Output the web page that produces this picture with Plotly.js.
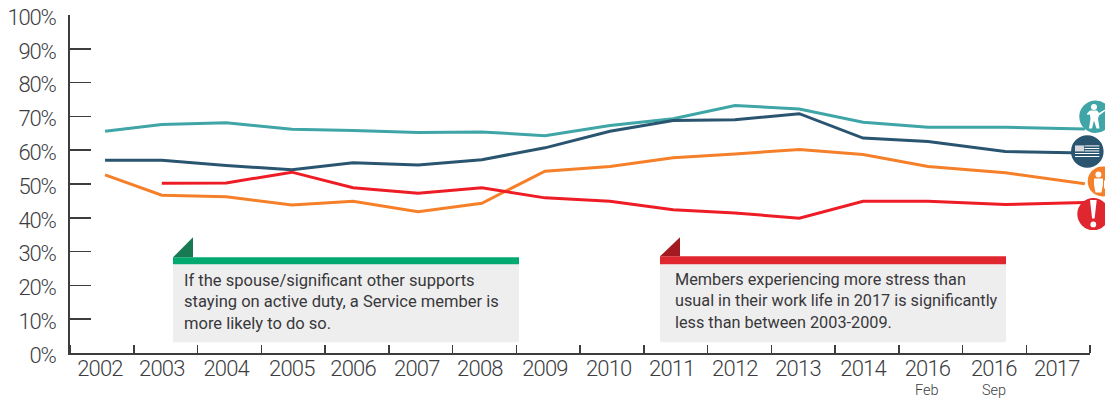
<!DOCTYPE html>
<html>
<head>
<meta charset="utf-8">
<script src="https://cdn.plot.ly/plotly-3.0.1.min.js"></script>
<style>
html,body{margin:0;padding:0;background:#fff}
#chart{width:1105px;height:399px}
/* Tighter numerals on both axes */
#chart .xtick text{letter-spacing:-0.8px}
#chart .ytick text{letter-spacing:-1.2px}
</style>
</head>
<body>
<div id="chart"></div>
<script>
// Survey periods, and where each one sits along the horizontal axis (1 unit = one tick interval)
const periods = ['2002','2003','2004','2005','2006','2007','2008','2009','2010','2011','2012','2013','2014','2016','2016','2017'];
const periodSubLabels = ['','','','','','','','','','','','','','Feb','Sep',''];
const pointSlots = [0.55,1.44,2.45,3.48,4.44,5.46,6.46,7.45,8.47,9.46,10.43,11.44,12.44,13.46,14.67,15.92];
const labelSlots = [0.47,1.44,2.45,3.48,4.44,5.44,6.43,7.45,8.45,9.44,10.43,11.42,12.44,13.45,14.49,15.48];

// Percent of respondents per period
const spouseSupport = [65.6,67.6,68.1,66.2,65.8,65.2,65.4,64.3,67.3,69.3,73.2,72.2,68.3,66.8,66.8,66.3];
const careerIntent  = [57.0,57.0,55.5,54.2,56.3,55.6,57.2,60.7,65.6,68.8,69.0,70.8,63.6,62.6,59.6,59.2];
const retentionView = [52.7,46.7,46.2,43.8,44.9,41.8,44.3,53.8,55.2,57.8,58.9,60.2,58.7,55.2,53.3,50.1];
const workStress    = [null,50.2,50.3,53.5,48.9,47.3,48.9,45.9,44.9,42.4,41.4,39.9,44.9,44.9,43.9,44.5];

const W = 1105, H = 399, L = 70, R = 1090, T = 14.5, B = 352.7;
const fx = px => (px - L) / (R - L);
const fy = py => (B - py) / (B - T);
const INK = '#3d3d3f';

const line = (y, color) => ({
  x: pointSlots, y, type: 'scatter', mode: 'lines', hoverinfo: 'skip',
  line: { color, width: 3, shape: 'linear' }, connectgaps: false
});

// Closed path, given in page pixels, as a paper-referenced shape
const pathOf = pts => pts.map((p, i) => (i ? 'L' : 'M') + fx(p[0]).toFixed(5) + ',' + fy(p[1]).toFixed(5)).join(' ') + ' Z';
const poly = (pts, fill) => ({ type: 'path', xref: 'paper', yref: 'paper', path: pathOf(pts),
  fillcolor: fill, line: { width: 0 }, layer: 'above' });
const box = (x0, y0, x1, y1, fill) => poly([[x0,y0],[x1,y0],[x1,y1],[x0,y1]], fill);
const disc = (cx, cy, r, fill) => ({ type: 'circle', xref: 'paper', yref: 'paper',
  x0: fx(cx - r), x1: fx(cx + r), y0: fy(cy + r), y1: fy(cy - r),
  fillcolor: fill, line: { width: 0 }, layer: 'above' });

const shapes = [
  // Green callout
  box(173, 264, 519, 342, '#efeeef'),
  box(173, 257, 519, 264, '#00a970'),
  poly([[173,257],[193,237],[193,257]], '#187a52'),
  // Red callout
  box(660, 264, 1006, 342, '#efeeef'),
  box(660, 256, 1006, 264, '#e0272f'),
  poly([[660,256],[680,237],[680,256]], '#a31a20'),

  // Soldier badge
  disc(1095.6, 116.3, 16.3, '#3fa5a6'),
  disc(1094, 106.5, 3, '#ffffff'),
  poly([[1090,110],[1097,110],[1099,112.5],[1105,109],[1105,110.5],[1099,115],[1098,118],[1099.5,128],[1096.5,128],[1094,120],[1092,128],[1089,128],[1090.5,118],[1090,114],[1087.5,114.5],[1087,113]], '#ffffff'),

  // Flag badge
  disc(1087.3, 151, 16.3, '#2a5570'),
  box(1075, 145, 1084, 151, '#d5d9dc'),
  box(1084.5, 145, 1099.3, 146, '#ffffff'),
  box(1084.5, 147.6, 1099.3, 148.6, '#ffffff'),
  box(1084.5, 150, 1099.3, 151, '#ffffff'),
  box(1075, 152.6, 1099.3, 153.6, '#ffffff'),
  box(1075, 155.6, 1099.3, 156.6, '#ffffff'),

  // Person badge
  disc(1102.7, 181, 15, '#f58029'),
  disc(1098.4, 174, 3, '#ffffff'),
  poly([[1094,178],[1103,178],[1103,184],[1101.5,192],[1095.5,192],[1094,184]], '#ffffff'),
  box(1104, 180, 1105, 188, '#ffffff'),

  // Exclamation badge
  disc(1093.3, 213.7, 16, '#e0272f'),
  poly([[1090,199.5],[1096.7,199.5],[1094.6,218],[1092.1,218]], '#ffffff'),
  disc(1093.3, 224, 2.9, '#ffffff')
];

const note = (x, y, text, size) => ({ xref: 'paper', yref: 'paper', x: fx(x - 2), y: fy(y), xanchor: 'left', yanchor: 'middle',
  text, showarrow: false, align: 'left', font: { family: 'Roboto, sans-serif', size, color: '#38383a' } });

const annotations = [
  note(184, 280, 'If the spouse/significant other supports', 16.55),
  note(184, 301.5, 'staying on active duty, a Service member is', 16.55),
  note(184, 323, 'more likely to do so.', 16.55),
  note(675, 279, 'Members experiencing more stress than', 16.25),
  note(675, 300, 'usual in their work life in 2017 is significantly', 16.25),
  note(675, 322, 'less than between 2003-2009.', 16.25)
];
periodSubLabels.forEach((text, i) => {
  if (text) annotations.push({ xref: 'x', yref: 'paper', x: labelSlots[i], y: fy(390.5), yanchor: 'middle', xanchor: 'center',
    text, showarrow: false, font: { family: 'Roboto, sans-serif', size: 14.5, weight: 300, color: INK } });
});

const tickFont = { family: 'Roboto, sans-serif', size: 22, weight: 300, color: INK };

Plotly.newPlot('chart', [
  line(spouseSupport, '#3fa5a6'),
  line(careerIntent, '#2a5570'),
  line(retentionView, '#f58029'),
  line(workStress, '#ee1c25')
], {
  width: W, height: H, showlegend: false,
  paper_bgcolor: '#fff', plot_bgcolor: '#fff',
  margin: { l: L, r: W - R, t: T, b: H - B, pad: 0 },
  xaxis: {
    range: [0, 16], showgrid: false, zeroline: false,
    showline: true, linecolor: INK, linewidth: 2,
    tickmode: 'array', tickvals: labelSlots, ticktext: periods, ticks: '',
    tickfont: tickFont, tickangle: 0, ticklabelstandoff: -5,
    minor: { tickmode: 'linear', tick0: 0, dtick: 1, ticks: 'inside', ticklen: 8, tickwidth: 1.5, tickcolor: INK, showgrid: false }
  },
  yaxis: {
    range: [0, 100], showgrid: false, zeroline: false,
    showline: true, linecolor: INK, linewidth: 2,
    tickmode: 'linear', tick0: 0, dtick: 10, ticksuffix: '%',
    ticks: 'inside', ticklen: 21, tickwidth: 1.5, tickcolor: INK,
    tickfont: tickFont, ticklabelstandoff: 8, ticklabelshift: 2, ticklabeloverflow: 'allow'
  },
  shapes, annotations
}, { displayModeBar: false, staticPlot: true });
</script>
</body>
</html>
